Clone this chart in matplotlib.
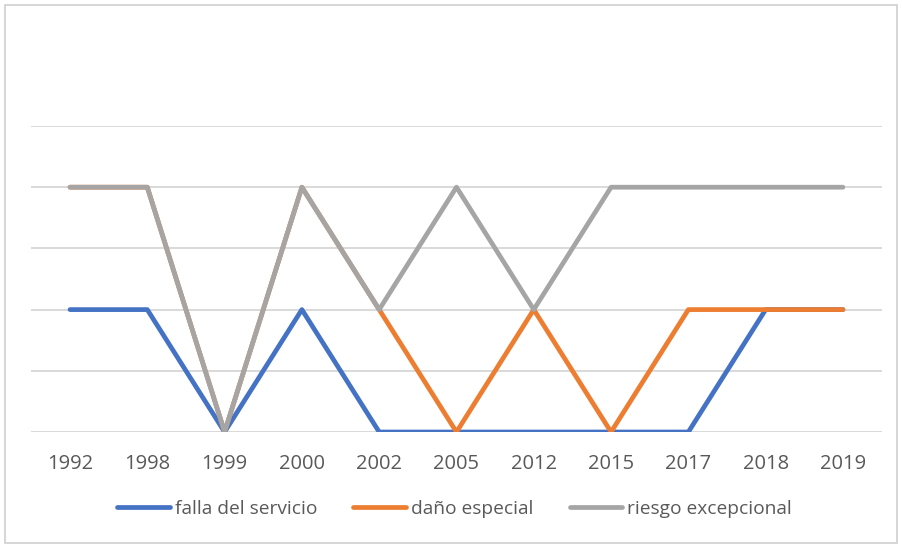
import matplotlib
matplotlib.use("Agg")
import matplotlib.pyplot as plt
from matplotlib.patches import Rectangle

years = ["1992", "1998", "1999", "2000", "2002", "2005", "2012", "2015", "2017", "2018", "2019"]
falla_del_servicio = [2, 2, 0, 2, 0, 0, 0, 0, 0, 2, 2]
dano_especial = [4, 4, 0, 4, 2, 0, 2, 0, 2, 2, 2]
riesgo_excepcional = [4, 4, 0, 4, 2, 4, 2, 4, 4, 4, 4]

W, H = 902, 545
fig = plt.figure(figsize=(W / 100, H / 100), dpi=100)
ax = fig.add_axes([31.35 / W, 1 - 432 / H, (881.6 - 31.35) / W, (432 - 126) / H])

x = list(range(len(years)))
kw = dict(linewidth=3.4, solid_capstyle="round", solid_joinstyle="round")
ax.plot(x, falla_del_servicio, color="#4472C4", label="falla del servicio", **kw)
ax.plot(x, dano_especial, color="#ED7D31", label="daño especial", **kw)
ax.plot(x, riesgo_excepcional, color="#A5A5A5", label="riesgo excepcional", **kw)

ax.set_xlim(-0.5, len(years) - 0.5)
ax.set_ylim(0, 5)
ax.set_yticks(range(0, 6))
ax.set_yticklabels([])
ax.tick_params(axis="y", length=0)
ax.set_xticks(x)
ax.set_xticklabels(years, fontsize=14.5, color="#595959", family="Open Sans")
ax.tick_params(axis="x", length=0, pad=16)
ax.grid(axis="y", color="#D9D9D9", linewidth=1.4)
ax.set_axisbelow(True)
for s in ax.spines.values():
    s.set_visible(False)

leg = fig.legend(loc="center", bbox_to_anchor=(454.5 / W, 1 - 509 / H), ncol=3, frameon=False,
                 prop={"family": "Open Sans", "size": 13.8}, handlelength=2.75,
                 handletextpad=0.25, columnspacing=1.9)
for t in leg.get_texts():
    t.set_color("#595959")

fig.patches.append(Rectangle((5 / W, 2 / H), (W - 10) / W, (H - 7) / H, transform=fig.transFigure,
                             fill=False, edgecolor="#D0D0D0", linewidth=1.2))

fig.savefig("out.png", dpi=100, facecolor="white")
